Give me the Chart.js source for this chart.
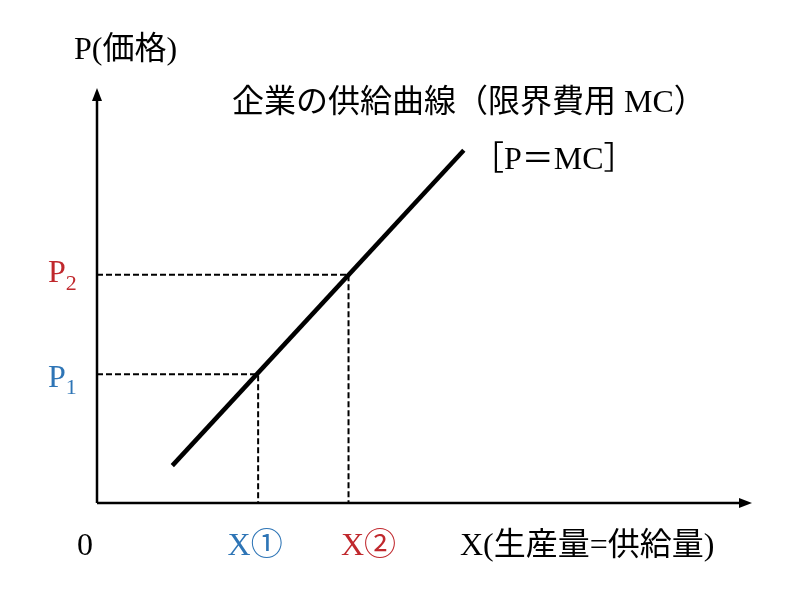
<!DOCTYPE html>
<html>
<head>
<meta charset="utf-8">
<script src="https://cdn.jsdelivr.net/npm/chart.js@4.4.0/dist/chart.umd.min.js"></script>
<style>
  html, body { margin: 0; padding: 0; background: #fff; }
  #wrap { width: 808px; height: 589px; }
</style>
</head>
<body>
<div id="wrap"><canvas id="myChart"></canvas></div>
<script>
// supply curve (MC) end points, in axis units
const supplyX = [11.5, 56];
const supplyY = [9, 85];
// the two price / quantity pairs
const qtyX = [24.6, 38.4];
const priceP = [31, 55];
const axisMax = 100;

const RED = '#c0282d';
const BLUE = '#2e75b6';
const FONT = '"Liberation Serif", "Noto Sans CJK JP", serif';

// dashed guide: (0,P) -> (X,P) -> (X,0)
function guide(i) {
  return [
    { x: 0, y: priceP[i] },
    { x: qtyX[i], y: priceP[i] },
    { x: qtyX[i], y: 0 }
  ];
}

const axesAndText = {
  id: 'axesAndText',
  afterDatasetsDraw(chart) {
    const c = chart.ctx;
    const xs = chart.scales.x, ys = chart.scales.y;
    const x0 = xs.getPixelForValue(0), y0 = ys.getPixelForValue(0);
    const xEnd = xs.getPixelForValue(axisMax), yEnd = ys.getPixelForValue(axisMax);
    c.save();
    c.strokeStyle = '#000';
    c.fillStyle = '#000';
    c.lineWidth = 2.5;
    c.beginPath();
    c.moveTo(x0, y0); c.lineTo(x0, yEnd + 10);
    c.moveTo(x0, y0); c.lineTo(xEnd - 10, y0);
    c.stroke();
    // arrow heads
    c.beginPath();
    c.moveTo(x0, yEnd); c.lineTo(x0 - 5, yEnd + 13); c.lineTo(x0 + 5, yEnd + 13);
    c.closePath(); c.fill();
    c.beginPath();
    c.moveTo(xEnd, y0); c.lineTo(xEnd - 13, y0 - 5); c.lineTo(xEnd - 13, y0 + 5);
    c.closePath(); c.fill();

    c.textBaseline = 'middle';
    c.font = '32px ' + FONT;
    c.fillText('P(価格)', 74, 51);
    c.fillText('企業の供給曲線（限界費用 MC）', 232, 104);
    c.fillText('［P＝MC］', 472, 161);
    c.fillText('0', 77, 547);
    c.fillText('X(生産量=供給量)', 460, 547);

    // price labels with subscripts
    const sub = (txt, n, x, y, col) => {
      c.fillStyle = col;
      c.font = '32px ' + FONT;
      c.fillText(txt, x, y);
      const w = c.measureText(txt).width;
      c.font = '22px ' + FONT;
      c.fillText(n, x + w, y + 10);
    };
    sub('P', '2', 48, ys.getPixelForValue(priceP[1]) - 1, RED);
    sub('P', '1', 48, ys.getPixelForValue(priceP[0]) + 4, BLUE);

    c.font = '32px ' + FONT;
    c.textAlign = 'center';
    c.fillStyle = BLUE;
    c.fillText('X①', xs.getPixelForValue(qtyX[0]) - 3, 547);
    c.fillStyle = RED;
    c.fillText('X②', xs.getPixelForValue(qtyX[1]) + 20, 547);
    c.restore();
  }
};

new Chart(document.getElementById('myChart'), {
  type: 'scatter',
  data: {
    datasets: [
      {
        data: supplyX.map((x, i) => ({ x: x, y: supplyY[i] })),
        showLine: true,
        borderColor: '#000',
        borderWidth: 4.5,
        borderCapStyle: 'butt',
        pointRadius: 0
      },
      {
        data: guide(0),
        showLine: true,
        borderColor: '#000',
        borderWidth: 2,
        borderDash: [6, 3],
        pointRadius: 0
      },
      {
        data: guide(1),
        showLine: true,
        borderColor: '#000',
        borderWidth: 2,
        borderDash: [6, 3],
        pointRadius: 0
      }
    ]
  },
  options: {
    maintainAspectRatio: false,
    responsive: true,
    animation: false,
    layout: { padding: { left: 97, right: 56, top: 88, bottom: 86 } },
    scales: {
      x: { type: 'linear', min: 0, max: axisMax, display: false },
      y: { type: 'linear', min: 0, max: axisMax, display: false }
    },
    plugins: {
      legend: { display: false },
      tooltip: { enabled: false }
    }
  },
  plugins: [axesAndText]
});
</script>
</body>
</html>
